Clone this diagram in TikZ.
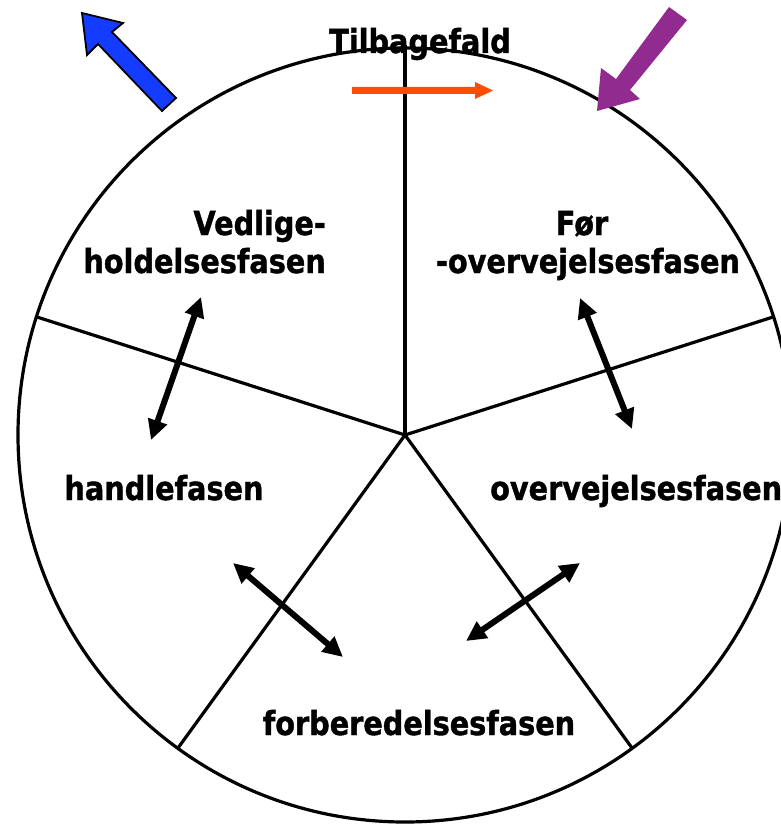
\documentclass[tikz,border=0pt]{standalone}
\usepackage{fontspec}
\usetikzlibrary{arrows.meta}
\newfontfamily\lblfont{DejaVu Sans Bold}[FakeStretch=0.87,FakeBold=1.2]
\definecolor{arrblue}{RGB}{20,60,255}
\definecolor{arrpurple}{RGB}{146,43,143}
\definecolor{arrorange}{RGB}{255,76,0}
\tikzset{
  lbl/.style={inner sep=0pt, font=\lblfont\fontsize{33}{38}\selectfont},
  wheel/.style={line width=3.2pt, draw=black},
  dbl/.style={line width=6pt, {Triangle[length=20pt,width=19pt]}-{Triangle[length=20pt,width=19pt]}}
}
\begin{document}
\begin{tikzpicture}[x=1pt,y=-1pt]
\useasboundingbox (0,0) rectangle (781,824);
\clip (0,0) rectangle (781,824);
\fill[white] (0,0) rectangle (781,824);
% wheel
\coordinate (c) at (405,435);
\coordinate (ptop) at (405,45);
\coordinate (pr) at (773,317);
\coordinate (pl) at (37,317);
\coordinate (pbl) at (178,748);
\coordinate (pbr) at (632,748);
\draw[wheel] (c) circle[radius=387pt];
\draw[wheel] (c) -- (ptop);
\draw[wheel] (c) -- (pr);
\draw[wheel] (c) -- (pl);
\draw[wheel] (c) -- (pbl);
\draw[wheel] (c) -- (pbr);
% block arrows
\filldraw[fill=arrblue, draw=black, line width=1.8pt, line join=miter]
  (82,13) -- (123,23) -- (112,32) -- (176,98) -- (162,111) -- (98,44) -- (87,55) -- cycle;
\fill[arrpurple]
  (597,111) -- (601,68) -- (616,79) -- (669,7) -- (687,20) -- (630,90) -- (640,99) -- cycle;
\fill[arrorange]
  (352,87) -- (475,87) -- (475,82) -- (493,90.5) -- (475,99) -- (475,94) -- (352,94) -- cycle;
% labels
\node[lbl, anchor=base] (tb) at (420,53) {Tilbagefald};
\node[lbl, anchor=base east] (v1) at (326,235) {Vedlige-};
\node[lbl, anchor=base east] (v2) at (326,273) {holdelsesfasen};
\node[lbl, anchor=base] (f1) at (582,235) {Før};
\node[lbl, anchor=base] (f2) at (588,273) {-overvejelsesfasen};
\node[lbl, anchor=base] (h) at (164,500) {handlefasen};
\node[lbl, anchor=base west] (o) at (490,500) {overvejelsesfasen};
\node[lbl, anchor=base] (fb) at (419,735) {forberedelsesfasen};
% double arrows
\coordinate (a1) at (201,297); \coordinate (a2) at (151,440);
\coordinate (b1) at (580,298); \coordinate (b2) at (632,429);
\coordinate (d1) at (233,563); \coordinate (d2) at (343,657);
\coordinate (e1) at (580,563); \coordinate (e2) at (466,641);
\draw[dbl] (a1) -- (a2);
\draw[dbl] (b1) -- (b2);
\draw[dbl] (d1) -- (d2);
\draw[dbl] (e1) -- (e2);
\end{tikzpicture}
\end{document}
